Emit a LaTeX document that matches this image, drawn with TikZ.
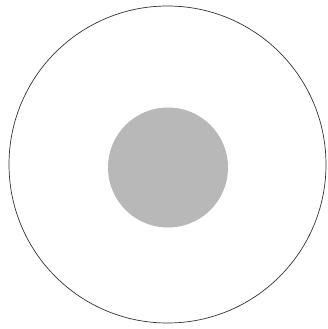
\documentclass[tikz,border=0pt]{standalone}
\begin{document}
\begin{tikzpicture}[x=1pt,y=-1pt,
  outerring/.style={draw=black!80, line width=0.7pt},
  core/.style={fill=black!28, draw=none}]
\useasboundingbox (0,0) rectangle (327,329);
\fill[white] (0,0) rectangle (327,329);
\draw[outerring] (167.5,164.5) circle[radius=158.5];
\fill[core] (168,167.5) circle[radius=60];
\end{tikzpicture}
\end{document}
